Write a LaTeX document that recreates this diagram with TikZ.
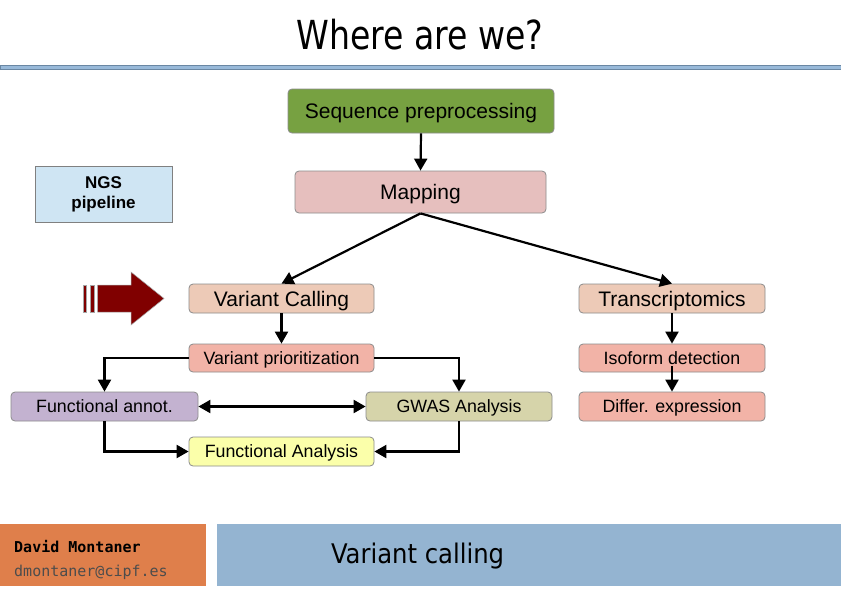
\documentclass[tikz,border=0pt]{standalone}
\usepackage{fontspec}
\setmainfont{Liberation Sans}
\newfontfamily\titlefont{DejaVu Sans Condensed}
\newfontfamily\titlefontn[FakeStretch=0.92]{DejaVu Sans Condensed}
\newfontfamily\monofont{DejaVu Sans Mono}
\usetikzlibrary{arrows.meta}
\definecolor{cgreen}{HTML}{77A141}
\definecolor{cmap}{HTML}{E6BFBE}
\definecolor{cngs}{HTML}{CFE5F3}
\definecolor{cpeach}{HTML}{EDCAB7}
\definecolor{csalmon}{HTML}{F2B3A7}
\definecolor{clav}{HTML}{C3B2D0}
\definecolor{cgwas}{HTML}{D6D4AA}
\definecolor{cyel}{HTML}{FBFFAA}
\definecolor{corange}{HTML}{DF7F4B}
\definecolor{cblue}{HTML}{94B4D1}
\definecolor{crule}{HTML}{98B9D9}
\definecolor{cruleb}{HTML}{6A87A3}
\definecolor{cdred}{HTML}{800000}
\tikzset{
  box/.style={draw=black!45, line width=0.8pt, rounded corners=4pt, inner sep=0pt, align=center, text depth=0pt},
  bigtxt/.style={font=\fontsize{21}{24}\selectfont, text height=15pt},
  smalltxt/.style={font=\fontsize{17.8}{21}\selectfont, text height=12.8pt},
  arr/.style={line width=2.2pt, -{Triangle[length=12pt,width=13pt]}},
  darr/.style={line width=2.2pt, {Triangle[length=12pt,width=13pt]}-{Triangle[length=12pt,width=13pt]}},
}
\begin{document}
\begin{tikzpicture}[x=1pt,y=-1pt]
\useasboundingbox (0,0) rectangle (841,595);
\fill[white] (0,0) rectangle (841,595);
% title
\node[font=\titlefontn\fontsize{40}{44}\selectfont, inner sep=0pt, anchor=base] (title) at (420,49) {Where are we?};
\draw[draw=cruleb, fill=crule, line width=0.8pt] (0,65) rectangle (841,69);
% boxes
\node[box, bigtxt, fill=cgreen, minimum width=266pt, minimum height=44pt] (seq) at (421,111) {Sequence preprocessing};
\node[box, bigtxt, fill=cmap, minimum width=251pt, minimum height=42pt] (map) at (420.5,192) {Mapping};
\node[draw=black!50, line width=0.8pt, fill=cngs, minimum width=137pt, minimum height=56pt, inner sep=0pt, align=center, font=\bfseries\fontsize{17}{20}\selectfont] (ngs) at (103.5,194) {NGS\\pipeline};
\node[box, bigtxt, fill=cpeach, minimum width=185pt, minimum height=29pt] (vc) at (281.5,298.5) {Variant Calling};
\node[box, bigtxt, fill=cpeach, minimum width=186pt, minimum height=29pt] (tr) at (672,298.5) {Transcriptomics};
\node[box, smalltxt, fill=csalmon, minimum width=185pt, minimum height=28pt] (vp) at (281.5,358) {Variant prioritization};
\node[box, smalltxt, fill=csalmon, minimum width=186pt, minimum height=28pt] (iso) at (672,358) {Isoform detection};
\node[box, smalltxt, fill=csalmon, minimum width=186pt, minimum height=29pt] (dif) at (672,406.5) {Differ. expression};
\node[box, smalltxt, fill=clav, minimum width=187pt, minimum height=29pt] (fan) at (104.5,406.5) {Functional annot.};
\node[box, smalltxt, fill=cgwas, minimum width=186pt, minimum height=29pt] (gwas) at (459,406.5) {GWAS Analysis};
\node[box, smalltxt, fill=cyel, minimum width=185pt, minimum height=29pt] (fa) at (281.5,451.5) {Functional Analysis};
% connectors
\draw[arr] (seq.south) -- (map.north);
\draw[arr] (map.south) -- (vc.north);
\draw[arr] (map.south) -- (tr.north);
\draw[arr] (vc.south) -- (vp.north);
\draw[arr] (vp.west) -| (fan.north);
\draw[arr] (vp.east) -| (gwas.north);
\draw[darr] (fan.east) -- (gwas.west);
\draw[arr] (fan.south) |- (fa.west);
\draw[arr] (gwas.south) |- (fa.east);
\draw[arr] (tr.south) -- (iso.north);
\draw[arr] ([yshift=6pt]iso.south) -- (dif.north);
% red arrow
\begin{scope}[draw=black!35, line width=0.5pt, fill=cdred]
\filldraw (83.3,285) rectangle (86.3,312);
\filldraw (90.5,285) rectangle (94.5,312);
\filldraw (97.5,285) -- (131,285) -- (131,272) -- (164,298.5) -- (131,325) -- (131,312) -- (97.5,312) -- cycle;
\end{scope}
% footer
\fill[corange] (0,524) rectangle (206,586);
\fill[cblue] (217,524) rectangle (841,586);
\node[anchor=base west, inner sep=0pt, font=\monofont\bfseries\fontsize{15}{18}\selectfont] (author) at (14,552) {David Montaner};
\node[anchor=base west, inner sep=0pt, font=\monofont\fontsize{15}{18}\selectfont, text=black!70] (mail) at (14,576) {dmontaner@cipf.es};
\node[anchor=base west, inner sep=0pt, font=\titlefont\fontsize{27}{32}\selectfont] (sub) at (331,563) {Variant calling};
\end{tikzpicture}
\end{document}
